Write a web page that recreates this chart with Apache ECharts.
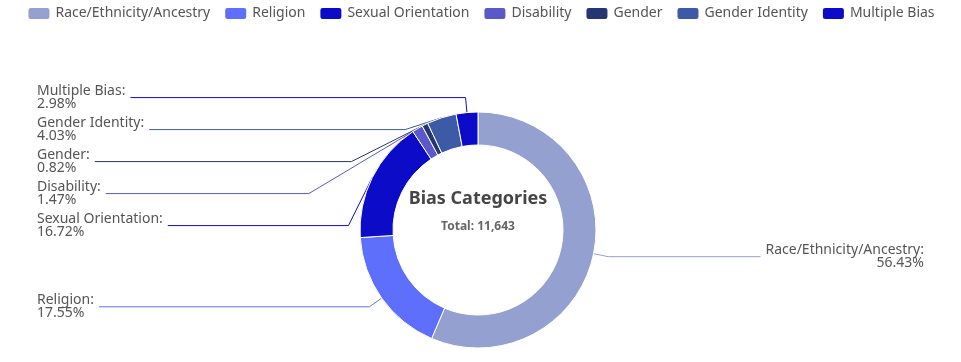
<!DOCTYPE html>
<html><head><meta charset="utf-8">
<script src="https://cdn.jsdelivr.net/npm/echarts@6/dist/echarts.min.js"></script>
<style>html,body{margin:0;padding:0;background:#fff}#c{width:961px;height:362px}</style>
</head><body><div id="c"></div>
<script>
const categories = ['Race/Ethnicity/Ancestry','Religion','Sexual Orientation','Disability','Gender','Gender Identity','Multiple Bias'];
const counts = [6570, 2043, 1947, 171, 96, 469, 347];
const colors = ['#94a1d0','#5e6ffb','#0c0cc8','#5b58c9','#263670','#3c5aa5','#0c0cc8'];
const chartTitle = 'Bias Categories';
const total = counts.reduce((a,b)=>a+b,0);
const FONT = '"Noto Sans", sans-serif';
const chart = echarts.init(document.getElementById('c'));
chart.setOption({
  animation:false,
  color: colors,
  textStyle:{fontFamily:FONT},
  legend:{
    top:1, left:'center', itemWidth:23, itemHeight:13, itemGap:13,
    icon:'roundRect',
    textStyle:{fontSize:14,color:'#555',fontFamily:FONT},
    data: categories
  },
  graphic:[
    {type:'text', x:478, y:199, style:{text:chartTitle, font:'bold 18px '+FONT, fill:'#464646', textAlign:'center', textVerticalAlign:'middle'}},
    {type:'text', x:478, y:227, style:{text:'Total: '+total.toLocaleString('en-US'), font:'bold 12px '+FONT, fill:'#666', textAlign:'center', textVerticalAlign:'middle'}}
  ],
  series:[{
    type:'pie',
    center:[478,230],
    radius:[85,118],
    startAngle:90,
    itemStyle:{borderColor:'#fff',borderWidth:1},
    label:{
      show:true,
      alignTo:'edge',
      edgeDistance:37,
      fontSize:14,
      lineHeight:13,
      padding:[2,0,2,0],
      color:'#555',
      fontFamily:FONT,
      formatter:p=>p.name+':\n'+(p.value/total*100).toFixed(2)+'%'
    },
    labelLine:{length:15,length2:0},
    data: categories.map((n,i)=>({name:n,value:counts[i]}))
  }]
});
</script></body></html>
